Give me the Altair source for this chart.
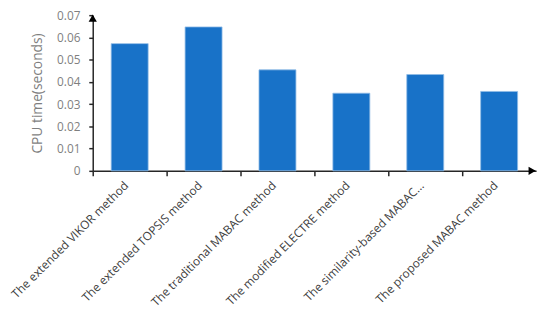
import altair as alt
import pandas as pd

methods = [
    "The extended VIKOR method",
    "The extended TOPSIS method",
    "The traditional MABAC method",
    "The modified ELECTRE method",
    "The similarity-based MABAC...",
    "The proposed MABAC method",
]
cpu_time = [0.0572, 0.0647, 0.0454, 0.0349, 0.0433, 0.0357]
y_ticks = [0, 0.01, 0.02, 0.03, 0.04, 0.05, 0.06, 0.07]

df = pd.DataFrame({"method": methods, "cpu": cpu_time})

W, H = 450, 158

bars = alt.Chart(df).mark_bar(color="#1872C8", stroke="#8fbbe6", strokeWidth=0.8).encode(
    x=alt.X(
        "method:N",
        sort=methods,
        title=None,
        scale=alt.Scale(paddingInner=0.5, paddingOuter=0.25),
        axis=alt.Axis(
            labelAngle=-45,
            bandPosition=-0.5,
            labelOffset=-7,
            labelPadding=4,
            labelFontSize=12,
            labelColor="#404040",
            labelFont="Open Sans",
            labelLimit=300,
            tickSize=5,
            tickColor="#262626",
            tickWidth=1.5,
            domainColor="#262626",
            domainWidth=1.5,
        ),
    ),
    y=alt.Y(
        "cpu:Q",
        title="CPU time(seconds)",
        scale=alt.Scale(domain=[0, 0.07], nice=False),
        axis=alt.Axis(
            values=y_ticks,
            format="~g",
            grid=False,
            labelFontSize=12,
            labelColor="#7f7f7f",
            labelFont="Open Sans",
            labelPadding=9,
            tickSize=4,
            tickColor="#262626",
            tickWidth=1.5,
            domainColor="#262626",
            domainWidth=1.5,
            titleFontSize=14,
            titleColor="#7f7f7f",
            titleFont="Open Sans",
            titleFontWeight="normal",
            titlePadding=12,
        ),
    ),
)

arrow_up = alt.Chart(df.head(1)).mark_point(
    shape="triangle-up", filled=True, color="#000000", size=70, opacity=1
).encode(x=alt.value(0), y=alt.value(3))

arrow_right = alt.Chart(df.head(1)).mark_point(
    shape="triangle-right", filled=True, color="#000000", size=70, opacity=1
).encode(x=alt.value(W - 4), y=alt.value(H))

chart = alt.layer(bars, arrow_up, arrow_right).properties(
    width=W,
    height=H,
    autosize=alt.AutoSizeParams(type="none"),
    padding={"left": 86, "top": 5, "right": 6, "bottom": 140},
).configure_view(stroke=None)

chart.save("out.html", embed_options={"renderer": "svg", "actions": False})
